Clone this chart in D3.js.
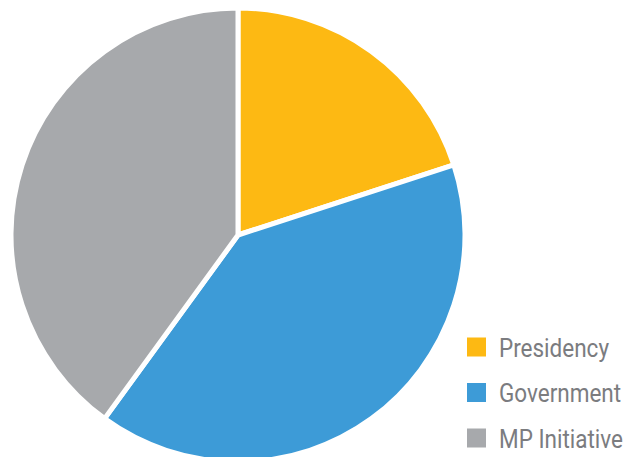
<!DOCTYPE html>
<html>
  <head>
    <meta charset="utf-8" />
    <title>Initiators of laws</title>
    <style>
      body {
        margin: 0;
        background: #fff;
      }
      .legend text {
        font-family: "Roboto", sans-serif;
        font-size: 25px;
        fill: #7b7c7f;
      }
    </style>
  </head>
  <body>
    <div id="chart"></div>

    <script src="https://d3js.org/d3.v7.min.js"></script>
    <script>
      // data (percent shares)
      var categories = ["Presidency", "Government", "MP Initiative"];
      var shares = [20, 40, 40];
      var colours = ["#fdb913", "#3d9bd7", "#a7a9ac"];

      var width = 636,
        height = 457;

      var svg = d3
        .select("#chart")
        .append("svg")
        .attr("width", width)
        .attr("height", height);

      var cx = 238,
        cy = 235,
        radius = 227;

      var pie = d3.pie().sort(null).value(function (d) {
        return d;
      });

      var arc = d3.arc().innerRadius(0).outerRadius(radius);

      var g = svg
        .append("g")
        .attr("transform", "translate(" + cx + "," + cy + ")");

      g.selectAll("path")
        .data(pie(shares))
        .enter()
        .append("path")
        .attr("d", arc)
        .attr("fill", function (d, i) {
          return colours[i];
        })
        .attr("stroke", "#fff")
        .attr("stroke-width", 5)
        .attr("stroke-linejoin", "round");

      // legend
      var y = d3.scalePoint().domain(categories).range([347, 438]);

      var legend = svg
        .append("g")
        .attr("class", "legend")
        .selectAll("g")
        .data(categories)
        .enter()
        .append("g")
        .attr("transform", function (d) {
          return "translate(467," + y(d) + ")";
        });

      legend
        .append("rect")
        .attr("x", 0)
        .attr("y", -9.5)
        .attr("width", 19)
        .attr("height", 19)
        .attr("fill", function (d, i) {
          return colours[i];
        });

      // the original face is a condensed one, so squeeze Roboto sideways
      legend
        .append("text")
        .attr("transform", "translate(32,9.5) scale(0.9,1)")
        .text(function (d) {
          return d;
        });
    </script>
  </body>
</html>
